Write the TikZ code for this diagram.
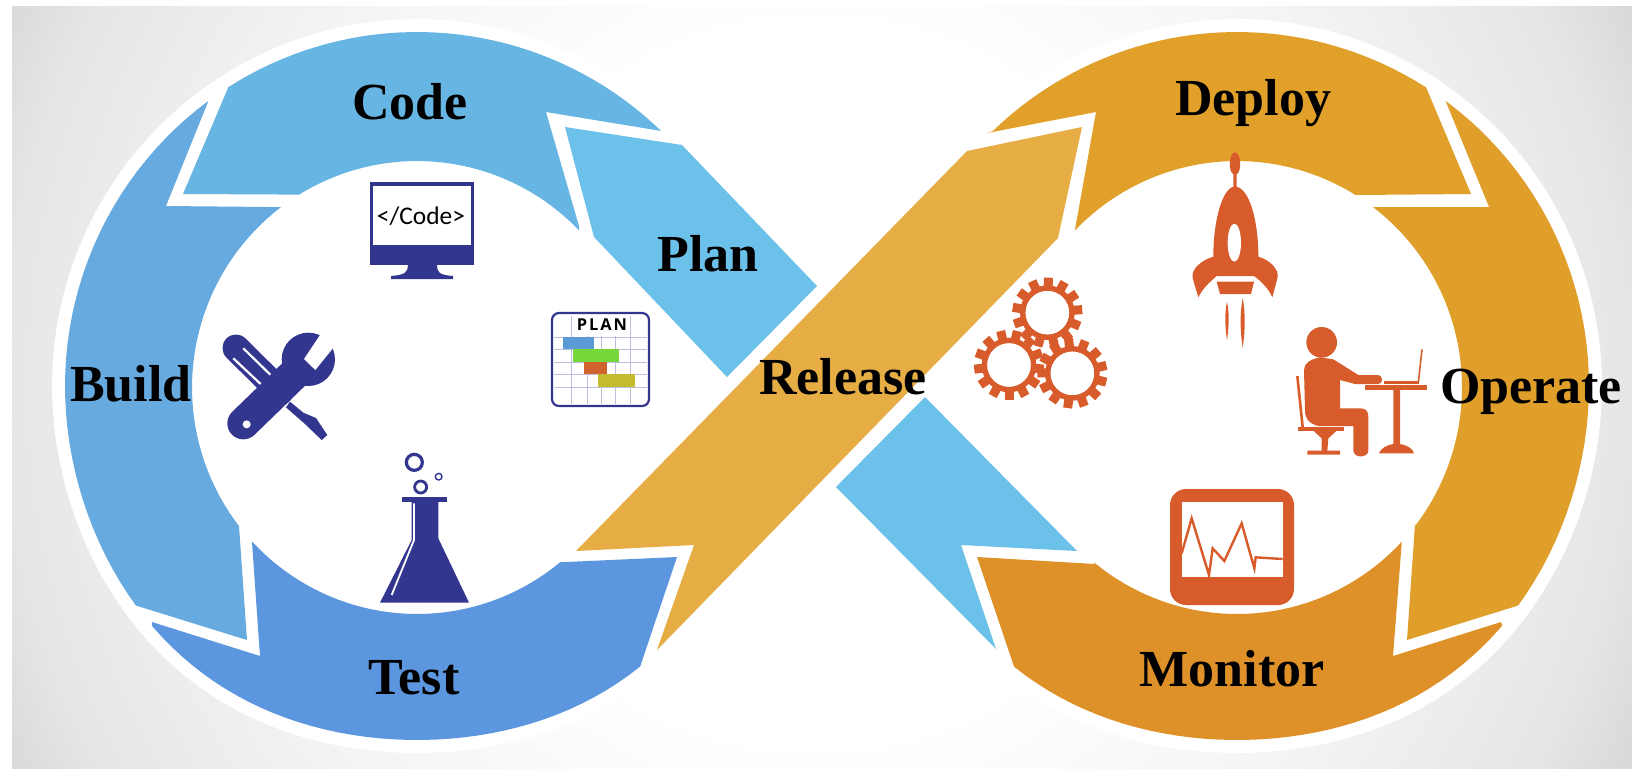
\documentclass[tikz,border=0pt]{standalone}
\usepackage{fontspec}
\setmainfont{Liberation Serif}
\newfontfamily\iconsans{Carlito}
\newfontfamily\plansans[LetterSpace=12]{Open Sans}
\definecolor{bgedge}{HTML}{D8D8D8}
\definecolor{bgleft}{HTML}{E6E6E6}
\definecolor{bgmid}{HTML}{F3F3F3}
\definecolor{cCode}{HTML}{66B5E3}
\definecolor{cBuild}{HTML}{66AADF}
\definecolor{cTest}{HTML}{5B96DE}
\definecolor{cPlan}{HTML}{6CC1EA}
\definecolor{cRelease}{HTML}{E6AD45}
\definecolor{cDeploy}{HTML}{E0A029}
\definecolor{cOperate}{HTML}{E09F2B}
\definecolor{cMonitor}{HTML}{DF9129}
\definecolor{navy}{HTML}{32368F}
\definecolor{rust}{HTML}{D85C2B}
\definecolor{gridc}{HTML}{BDBDDD}
\definecolor{barA}{HTML}{5B9BD5}
\definecolor{barB}{HTML}{76D73A}
\definecolor{barC}{HTML}{D0622E}
\definecolor{barD}{HTML}{C4BC30}
\pgfdeclareradialshading{bgrad}{\pgfpoint{0bp}{0bp}}{color(0bp)=(white); color(10bp)=(white); color(17bp)=(bgmid); color(22.5bp)=(bgleft); color(25bp)=(bgedge); color(50bp)=(bgedge)}
\newcommand\oL[2]{-- plot[domain=#1:#2,samples=40,variable=\t] ({417+352*cos(\t)},{386+354*sin(\t)+7*sin(2*\t)*sin(2*\t)*(sin(\t)>0)})}
\newcommand\iL[2]{-- plot[domain=#1:#2,samples=40,variable=\t] ({417+225*cos(\t)},{387.5+226.5*sin(\t)})}
\newcommand\oR[2]{-- plot[domain=#1:#2,samples=40,variable=\t] ({1237+352*cos(\t)},{386+354*sin(\t)+7*sin(2*\t)*sin(2*\t)*(sin(\t)>0)})}
\newcommand\iR[2]{-- plot[domain=#1:#2,samples=40,variable=\t] ({1237+225*cos(\t)},{387.5+226.5*sin(\t)})}
\newcommand\haloLobe[1]{\fill[white] plot[domain=0:360,samples=140,variable=\t] ({#1+365*cos(\t)},{386+367*sin(\t)+7*sin(2*\t)*sin(2*\t)*(sin(\t)>0)}) -- cycle;}
\def\pCode{(228,88) \oL{237.5}{313.9} -- (546,112) -- (579,226) \iL{316.1}{238.4} -- (183,194) -- cycle}
\def\pPlan{(565,127) -- (682,145) -- (817,286) -- (727,377) -- (594,237) -- cycle}
\def\pBuild{(208,102) \oL{233.6}{143} -- (247,640) -- (239,526) \iL{142.3}{232.8} -- (166,206) -- cycle}
\def\pTest{(152,622) -- (260,656) -- (252,542) \iL{137.1}{50.5} -- (677,557) -- (640,667) \oL{50.7}{138.9} -- cycle}
\def\pRelease{(576,551) -- (694,545) -- (657,650) -- (1058,238) -- (1082,127) -- (967,151) -- cycle}
\def\pDeploy{(987,133) \oR{226.1}{302.5} -- (1471,194) -- (1355,195) \iR{301.6}{223.9} -- (1096,112) -- cycle}
\def\pOperate{(1446,102) \oR{306.4}{397} -- (1407,640) -- (1415,524) \iR{397.7}{307.2} -- (1489,207) -- cycle}
\def\pMonitor{(977,557) -- (1095,564) \iR{129.5}{42.9} -- (1393,656) -- (1501,622) \oR{41.1}{129.3} -- cycle}
\def\pBack{(925,397) -- (1077,551) -- (961,545) -- (996,649) -- (836,487) -- cycle}
\newcommand\gearicon[3]{%
  \begin{scope}[shift={(#1,#2)}]
    \foreach \i in {0,...,12}{\pgfmathsetmacro\ang{#3+\i*27.69}
      \draw[rust,line width=4.5pt] (\ang:78) -- (\ang:105);}
    \fill[rust] (0,0) circle (82);
    \fill[white] (0,0) circle (65);
  \end{scope}}
\tikzset{
  halo/.style={draw=white,fill=white,line width=13pt,line join=round},
  lab/.style={font=\fontsize{26}{30}\selectfont\bfseries,text=black,inner sep=0pt,anchor=base},
  zoomed/.style={shift={#1},scale=1/3}
}
\begin{document}
\begin{tikzpicture}[x=0.5pt,y=-0.5pt]
\useasboundingbox (0,0) rectangle (1632,768);
\fill[white] (0,0) rectangle (1632,768);
\begin{scope}
  \clip (12,6) rectangle (1632,768);
  \shade[shading=bgrad] (-84,-516) rectangle (1716,1284);
\end{scope}
% white halo of the two lobes
\haloLobe{417}
\haloLobe{1237}
\path[halo] \pPlan; \path[halo] \pRelease; \path[halo] \pBack;
% segments
\fill[cCode] \pCode;
\fill[cPlan] \pPlan;
\fill[cBuild] \pBuild;
\fill[cTest] \pTest;
\fill[cDeploy] \pDeploy;
\fill[cOperate] \pOperate;
\fill[cMonitor] \pMonitor;
\fill[cPlan] \pBack;
\fill[cRelease] \pRelease;
% computer icon
\fill[navy] (370,182) rectangle (474,265);
\fill[white] (373,186) rectangle (471,245);
\fill[navy] (408,265) .. controls (408,272) and (405,275) .. (391,276) -- (391,279) -- (453,279) -- (453,276) .. controls (439,275) and (437,272) .. (437,265) -- cycle;
\node[inner sep=0pt,font=\iconsans\fontsize{12.7}{14}\selectfont] (codetext) at (421,216) {</Code>};
% plan icon
\draw[gridc,line width=.5pt] (554,337) -- (647,337) (554,349) -- (647,349) (554,362) -- (647,362) (554,374) -- (647,374) (554,387) -- (647,387)
 (571,316) -- (571,404) (587,316) -- (587,404) (601,316) -- (601,404) (615,316) -- (615,404) (630,316) -- (630,404);
\fill[white] (576,316) rectangle (628,336);
\fill[barA] (563,337) rectangle (594,349);
\fill[barB] (573,349) rectangle (619,362);
\fill[barC] (584,362) rectangle (607,374);
\fill[barD] (598,374) rectangle (635,387);
\draw[navy,line width=1.1pt,rounded corners=3.5pt] (552,313) rectangle (649,406);
\node[inner sep=0pt,font=\plansans\bfseries\fontsize{8.2}{10}\selectfont] (plantext) at (602,325) {PLAN};
% tools icon
\begin{scope}[zoomed={(210,320)}]
  \fill[navy] (240,245) -- (280,278) -- (318,294) -- (352,345) -- (335,360) -- (285,312) -- (228,262) -- cycle;
  \draw[navy,line cap=round,line width=13.5pt] (78,84) -- (210,215);
  \draw[white,line width=1.1pt] (100,85) -- (182,165) (70,115) -- (155,195);
  \draw[navy,line cap=round,line width=16pt] (100,310) -- (265,150);
  \fill[navy] (295,118) circle (80);
  \fill[white] (340,30) -- (282,117) -- (316,150) -- (367,87) -- (395,40) -- cycle;
  \fill[white] (110,313) circle (12);
\end{scope}
% flask icon
\begin{scope}[zoomed={(370,445)}]
  \draw[navy,line width=1.6pt] (133,52) circle (24);
  \draw[navy,line width=1.4pt] (152,126) circle (18);
  \draw[navy,line width=.7pt] (206,95) circle (10);
  \fill[navy] (97,157) rectangle (230,171);
  \fill[navy] (125,171) -- (205,171) -- (205,280) -- (297,473) -- (30,473) -- (125,285) -- cycle;
  \draw[white,line width=.9pt] (132,175) -- (132,285) -- (65,450);
\end{scope}
% rocket icon
\begin{scope}[zoomed={(1180,145)}]
  \fill[rust] (165,22) .. controls (185,25) and (185,80) .. (170,88) -- (170,125) .. controls (210,135) and (235,230) .. (235,335) .. controls (270,345) and (300,375) .. (292,400) -- (277,457) .. controls (265,430) and (245,410) .. (222,393) -- (110,393) .. controls (90,410) and (68,430) .. (55,457) -- (38,400) .. controls (32,372) and (65,345) .. (100,335) .. controls (100,230) and (125,135) .. (160,125) -- (160,88) .. controls (145,80) and (145,25) .. (165,22) -- cycle;
  \fill[white] (163,293) ellipse (20 and 57);
  \fill[rust] (110,410) -- (222,410) -- (213,447) -- (120,447) -- cycle;
  \fill[rust] (141,470) .. controls (150,510) and (145,560) .. (141,585) .. controls (137,560) and (132,510) .. (141,470) -- cycle;
  \fill[rust] (188,460) .. controls (198,510) and (194,570) .. (188,608) .. controls (182,570) and (178,510) .. (188,460) -- cycle;
\end{scope}
% gears icon
\begin{scope}[zoomed={(965,270)}]
  \gearicon{247}{128}{78}
  \gearicon{132}{285}{90}
  \gearicon{322}{310}{70}
  \fill[white] (247,128) circle (65) (132,285) circle (65) (322,310) circle (65);
\end{scope}
% person icon
\begin{scope}[zoomed={(1290,320)}]
  \fill[rust] (95,67) circle (46);
  \fill[rust] (90,112) -- (130,118) -- (205,165) -- (265,165) .. controls (280,168) and (280,190) .. (265,192) -- (195,192) -- (150,180) -- (150,265) -- (212,265) .. controls (228,265) and (235,275) .. (235,290) -- (235,392) .. controls (233,415) and (192,415) .. (190,392) -- (190,318) -- (85,318) .. controls (55,310) and (45,295) .. (45,270) -- (42,150) .. controls (42,130) and (60,118) .. (90,112) -- cycle;
  \draw[rust,line width=1.3pt] (22,168) -- (38,322);
  \fill[rust] (25,320) rectangle (162,332);
  \fill[rust] (70,332) -- (140,332) -- (115,355) -- (112,392) -- (150,392) -- (150,404) -- (52,404) -- (52,392) -- (95,392) -- (95,355) -- cycle;
  \fill[rust] (225,196) rectangle (412,210);
  \fill[rust] (310,210) -- (330,210) -- (330,372) .. controls (350,375) and (368,385) .. (372,400) -- (267,400) .. controls (272,385) and (290,375) .. (310,372) -- cycle;
  \fill[rust] (282,183) rectangle (386,192);
  \draw[rust,line width=.8pt] (385,187) -- (396,88);
\end{scope}
% monitor icon
\begin{scope}[zoomed={(1160,480)}]
  \fill[rust,rounded corners=8pt] (30,27) rectangle (402,375);
  \fill[white] (65,65) rectangle (368,290);
  \begin{scope}
    \clip (65,65) rectangle (368,295);
    \draw[rust,line width=1.2pt,line join=miter] (65,220) -- (95,115) -- (147,285) -- (158,205) -- (193,243) -- (245,130) -- (283,265) -- (287,232) -- (368,237);
  \end{scope}
\end{scope}
% labels
\node[lab] (code) at (410,119) {Code};
\node[lab] (plan) at (708,271) {Plan};
\node[lab] (build) at (131,401) {Build};
\node[lab] (test) at (414,694) {Test};
\node[lab] (release) at (843,394) {Release};
\node[lab] (deploy) at (1253,115) {Deploy};
\node[lab] (operate) at (1531,403) {Operate};
\node[lab] (monitor) at (1232,686) {Monitor};
\end{tikzpicture}
\end{document}
